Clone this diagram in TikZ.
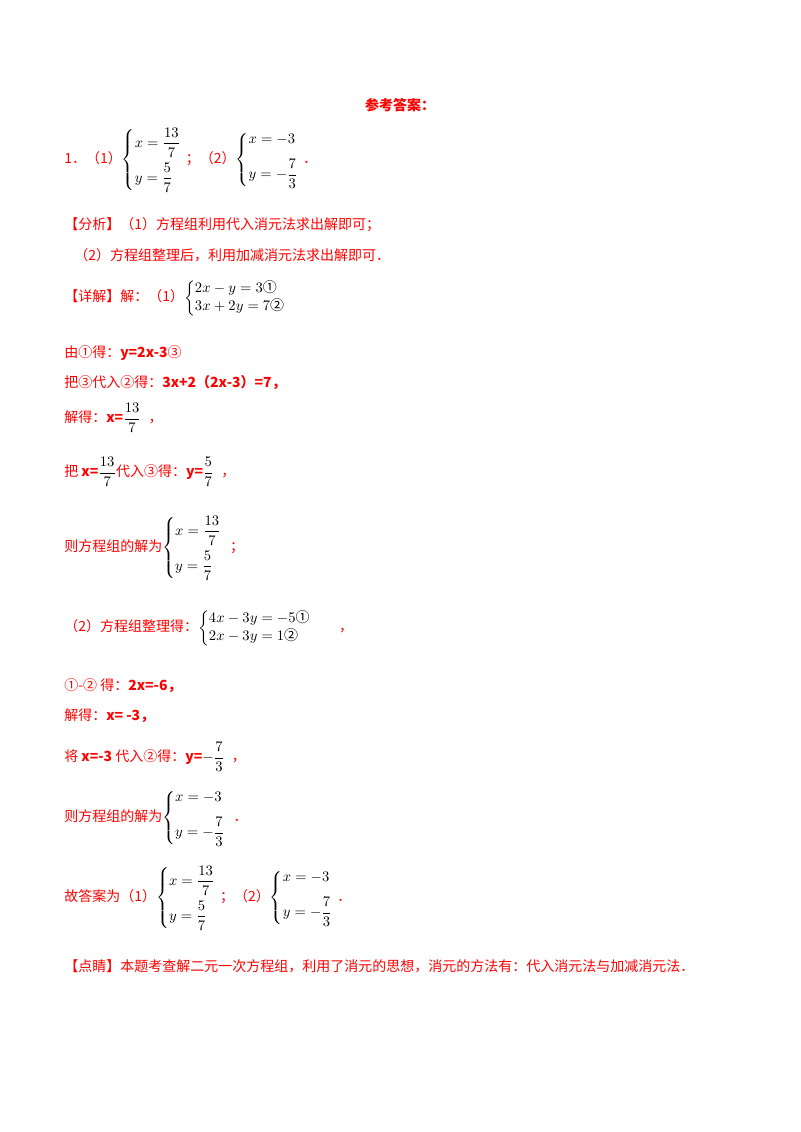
\documentclass[tikz,border=0pt]{standalone}
\usepackage{amsmath}
\usepackage{fontspec}
\newfontfamily\cjk{Noto Sans CJK SC}
\begin{document}
\begin{tikzpicture}[x=0.75pt,y=-0.75pt,
  t/.style={anchor=west,inner sep=0pt,text=red,font=\cjk\fontsize{10.5}{13}\selectfont},
  tb/.style={t,font=\cjk\bfseries\fontsize{10.5}{13}\selectfont}]
\useasboundingbox (0,0) rectangle (800,1132);
\newcommand{\sysA}{\ensuremath{\left\{\begin{array}{@{}l@{}}x=\dfrac{13}{7}\\[8pt] y=\dfrac{5}{7}\end{array}\right.}}
\newcommand{\sysB}{\ensuremath{\left\{\begin{array}{@{}l@{}}x=-3\\[8pt] y=-\dfrac{7}{3}\end{array}\right.}}
\node[tb,anchor=center] (title) at (400,105) {参考答案：};
\node[t] (l1) at (64,160) {1．（1）\textcolor{black}{\sysA}\;；（2）\textcolor{black}{\sysB}\;．};
\node[t] (fx) at (64,225) {【分析】（1）方程组利用代入消元法求出解即可；};
\node[t] (fx2) at (74,255) {（2）方程组整理后，利用加减消元法求出解即可．};
\node[t] (xj) at (64,298) {【详解】解：（1）\textcolor{black}{$\left\{\begin{array}{@{}l@{}}2x-y=3\text{①}\\ 3x+2y=7\text{②}\end{array}\right.$}};
\node[t] (s1) at (64,353) {由①得：\textbf{y=2x-3}③};
\node[t] (s2) at (64,383) {把③代入②得：\textbf{3x+2（2x-3）=7，}};
\node[t] (s3) at (64,418) {解得：\textbf{x=}\textcolor{black}{$\dfrac{13}{7}$}\;\;，};
\node[t] (s4) at (64,472) {把 \textbf{x=}\textcolor{black}{$\dfrac{13}{7}$}代入③得：\textbf{y=}\textcolor{black}{$\dfrac{5}{7}$}\;\;，};
\node[t] (s5) at (64,548) {则方程组的解为\textcolor{black}{\sysA}\;\;；};
\node[t] (s6) at (64,628) {（2）方程组整理得：\textcolor{black}{$\left\{\begin{array}{@{}l@{}}4x-3y=-5\text{①}\\ 2x-3y=1\text{②}\end{array}\right.$}\qquad，};
\node[t] (s7) at (64,686) {①-② 得：\textbf{2x=-6，}};
\node[t] (s8) at (64,716) {解得：\textbf{x= -3，}};
\node[t] (s9) at (64,757) {将 \textbf{x=-3} 代入②得：\textbf{y=}\textcolor{black}{$-\dfrac{7}{3}$}\;\;，};
\node[t] (s10) at (64,818) {则方程组的解为\textcolor{black}{\sysB}\;\;．};
\node[t] (s11) at (64,898) {故答案为（1）\textcolor{black}{\sysA}\;；（2）\textcolor{black}{\sysB}\;．};
\node[t] (dj) at (64,966) {【点睛】本题考查解二元一次方程组，利用了消元的思想，消元的方法有：代入消元法与加减消元法．};
\end{tikzpicture}
\end{document}
